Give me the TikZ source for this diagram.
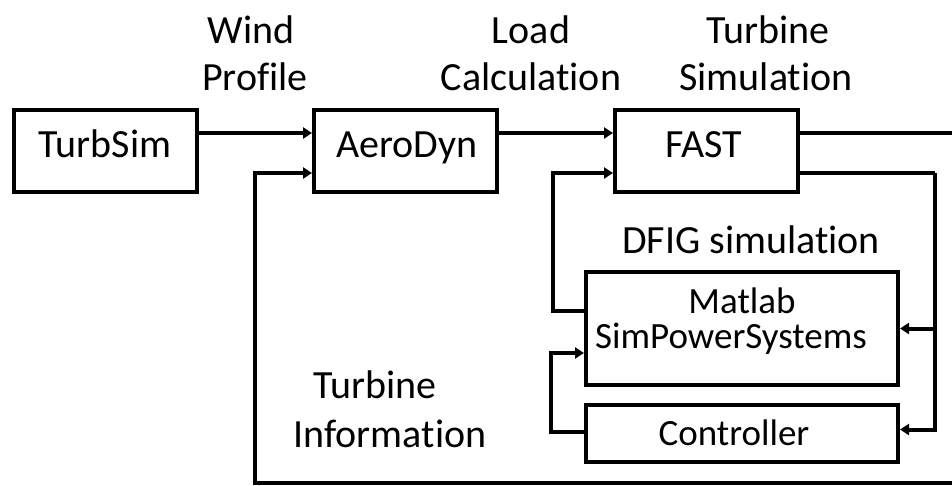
\documentclass[tikz,border=0pt]{standalone}
\usepackage{fontspec}
\setmainfont[RawFeature={-liga}]{Carlito}
\usetikzlibrary{arrows.meta}
\begin{document}
\begin{tikzpicture}[x=1pt,y=-1pt,
  box/.style={draw=black,line width=4pt,inner sep=0pt},
  lbl/.style={inner sep=0pt,anchor=base,font=\fontsize{40}{40}\selectfont},
  slbl/.style={inner sep=0pt,anchor=base,font=\fontsize{37}{37}\selectfont},
  conn/.style={line width=4pt,line join=miter},
  arr/.style={conn,-{Triangle[length=9pt,width=11pt]}}]
\useasboundingbox (0,0) rectangle (952,485);
% boxes
\node[box,minimum width=183pt,minimum height=82pt] (ts) at (105.5,151) {};
\node[box,minimum width=183pt,minimum height=82pt] (ad) at (405.5,151) {};
\node[box,minimum width=183pt,minimum height=82pt] (fa) at (706.5,151) {};
\node[box,minimum width=312pt,minimum height=113pt] (ml) at (742,328.5) {};
\node[box,minimum width=312pt,minimum height=57pt] (ct) at (742,433.5) {};
% box texts
\node[lbl] (tst) at (105,157) {TurbSim};
\node[lbl] (adt) at (407,157) {AeroDyn};
\node[lbl] (fat) at (704,157) {FAST};
\node[slbl] (mlt1) at (742,313) {Matlab};
\node[slbl] (mlt2) at (731,348) {SimPowerSystems};
\node[slbl] (ctt) at (734,445) {Controller};
% labels
\node[lbl] (l1a) at (251,43) {Wind};
\node[lbl] (l1b) at (255,90) {Profile};
\node[lbl] (l2a) at (531,43) {Load};
\node[lbl] (l2b) at (531,90) {Calculation};
\node[lbl] (l3a) at (768,43) {Turbine};
\node[lbl] (l3b) at (766,90) {Simulation};
\node[lbl] (l4) at (751,253) {DFIG simulation};
\node[lbl] (l5a) at (375,398) {Turbine};
\node[lbl] (l5b) at (390,447) {Information};
% edge coordinates
\coordinate (r1) at (952,133);
\coordinate (r2) at (952,483);
\coordinate (bl) at (255,483);
\coordinate (rv) at (935,173);
% connectors
\draw[arr] ([yshift=18pt]ts.east) -- ([yshift=18pt]ad.west);
\draw[arr] ([yshift=18pt]ad.east) -- ([yshift=18pt]fa.west);
\draw[conn] ([yshift=18pt]fa.east) -- (r1);
\draw[arr] (r2) -- (bl) |- ([yshift=-22pt]ad.west);
\draw[conn] ([yshift=-22pt]fa.east) -- (rv);
\draw[arr] (rv) |- ([yshift=4pt]ct.east);
\draw[arr] (rv |- ml.east) -- (ml.east);
\draw[arr] ([yshift=17.5pt]ml.west) -- ++(-31,0) |- ([yshift=-22pt]fa.west);
\draw[arr] ([yshift=1.5pt]ct.west) -- ++(-33,0) |- ([yshift=-24.5pt]ml.west);
\end{tikzpicture}
\end{document}
